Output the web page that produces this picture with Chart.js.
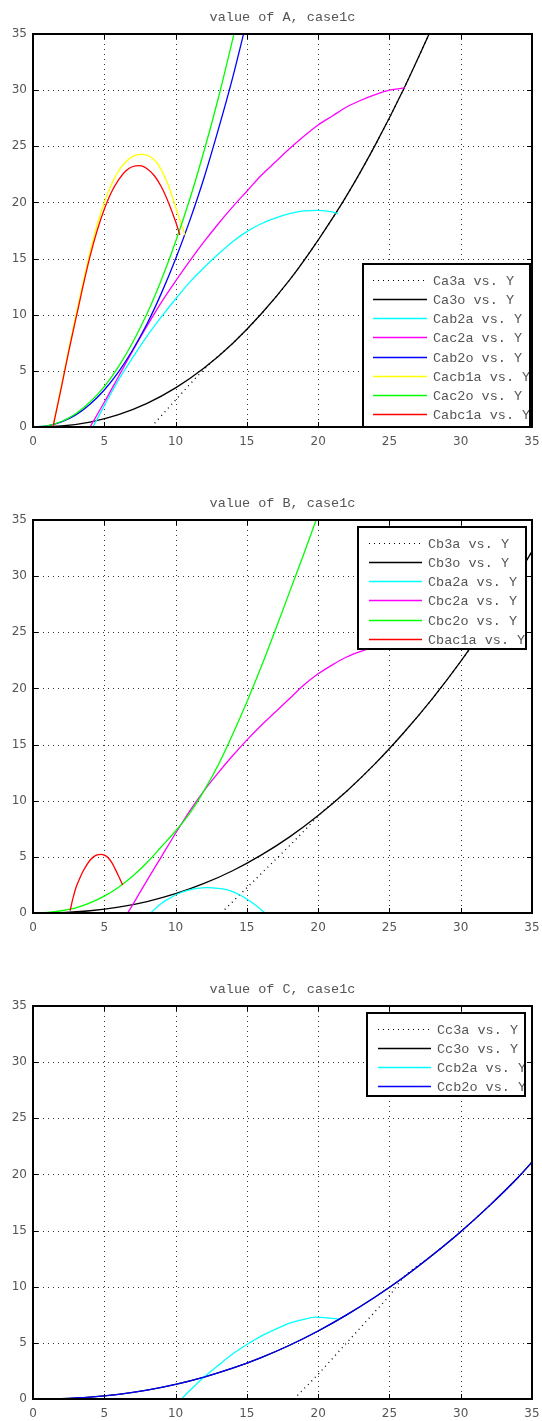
<!DOCTYPE html>
<html>
<head>
<meta charset="utf-8">
<script src="https://cdn.jsdelivr.net/npm/chart.js@4"></script>
<style>
  body { margin: 0; background: #fff; }
  canvas { display: block; }
</style>
</head>
<body>
<canvas id="chartA" width="542" height="486"></canvas>
<canvas id="chartB" width="542" height="486"></canvas>
<canvas id="chartC" width="542" height="449"></canvas>
<script>
// axis ticks shared by all three panels
const tickValues = [0, 5, 10, 15, 20, 25, 30, 35]

// ---- panel A: value of A ----
const Ca3a_x = [8.3, 9, 10, 11, 12, 12.5, 14, 16, 18, 20, 22, 24, 26, 28]
const Ca3a_y = [0, 1.0, 2.4, 3.8, 5.15, 5.76, 7.44, 10.06, 13.1, 16.65, 20.6, 25.1, 30.1, 35.6]
const Ca3o_x = [0, 2, 4, 6, 8, 10, 12, 14, 16, 18, 20, 22, 24, 26, 28]
const Ca3o_y = [0, 0.09, 0.44, 1.1, 2.1, 3.48, 5.25, 7.44, 10.06, 13.1, 16.65, 20.6, 25.1, 30.1, 35.6]
const Cab2a_x = [4.2, 5, 6, 7, 8, 9, 10, 11, 12, 13, 14, 15, 16, 17, 18, 19, 20, 21, 21.4]
const Cab2a_y = [0, 1.9, 4.2, 6.2, 8.1, 9.8, 11.4, 12.9, 14.2, 15.4, 16.5, 17.4, 18.1, 18.6, 19.0, 19.25, 19.3, 19.15, 19.0]
const Cac2a_x = [4, 5, 6, 7, 8, 9, 10, 11, 12, 13, 14, 15, 16, 17, 18, 19, 20, 21, 22, 23, 24, 25, 26.1]
const Cac2a_y = [0, 2.2, 4.5, 6.8, 9.0, 11.1, 13.0, 14.8, 16.5, 18.1, 19.6, 21.0, 22.4, 23.6, 24.8, 25.9, 26.9, 27.7, 28.5, 29.1, 29.6, 30.0, 30.2]
const Cab2o_x = [0, 1, 2, 3, 4, 5, 6, 7, 8, 9, 10, 11, 12, 13, 14, 15]
const Cab2o_y = [0, 0.1, 0.45, 1.08, 2.03, 3.3, 4.91, 6.88, 9.19, 11.9, 14.96, 18.4, 22.2, 26.5, 31.1, 36.2]
const Cacb1a_x = [1.4, 2, 2.5, 3, 3.5, 4, 4.5, 5, 5.5, 6, 6.5, 7, 7.6, 8, 8.5, 9, 9.5, 10, 10.66]
const Cacb1a_y = [0, 3.7, 6.9, 9.9, 12.8, 15.6, 18.0, 20.0, 21.6, 22.8, 23.6, 24.1, 24.28, 24.2, 23.8, 22.9, 21.5, 19.6, 17.1]
const Cac2o_x = [0, 1, 2, 3, 4, 5, 6, 7, 8, 9, 10, 11, 12, 13, 14, 15]
const Cac2o_y = [0, 0.11, 0.49, 1.18, 2.22, 3.6, 5.38, 7.55, 10.1, 13.1, 16.5, 20.3, 24.6, 29.3, 34.5, 40.0]
const Cabc1a_x = [1.4, 2, 2.5, 3, 3.5, 4, 4.5, 5, 5.5, 6, 6.5, 7, 7.5, 8, 8.5, 9, 9.5, 10, 10.3]
const Cabc1a_y = [0, 3.6, 6.7, 9.6, 12.5, 15.2, 17.5, 19.4, 20.9, 22.0, 22.8, 23.2, 23.27, 23.0, 22.4, 21.4, 20.0, 18.3, 17.1]

// ---- panel B: value of B ----
const Cb3a_x = [13.2, 14, 15, 16, 17, 18, 19, 20.2, 22, 24, 26, 28, 30, 32, 34, 35]
const Cb3a_y = [0, 1.0, 2.25, 3.5, 4.75, 6.0, 7.3, 8.89, 10.85, 13.3, 16.05, 19.07, 22.4, 26.1, 30.1, 32.2]
const Cb3o_x = [0, 2, 4, 6, 8, 10, 12, 14, 16, 18, 20, 22, 24, 26, 28, 30, 32, 34, 35]
const Cb3o_y = [0, 0.04, 0.2, 0.52, 1.02, 1.72, 2.63, 3.76, 5.15, 6.78, 8.69, 10.85, 13.3, 16.05, 19.07, 22.4, 26.1, 30.1, 32.2]
const Cba2a_x = [8.25, 8.5, 9, 9.5, 10, 10.5, 11, 11.5, 12.2, 13, 13.5, 14, 14.5, 15, 15.5, 16, 16.27]
const Cba2a_y = [0, 0.3, 0.85, 1.25, 1.6, 1.88, 2.07, 2.2, 2.26, 2.2, 2.1, 1.9, 1.6, 1.25, 0.8, 0.3, 0]
const Cbc2a_x = [6.64, 7, 8, 9, 10, 11, 12, 13, 14, 15, 16, 17, 18, 19, 20, 21, 22, 23, 24, 25, 26]
const Cbc2a_y = [0, 0.75, 2.9, 5.0, 7.1, 9.1, 10.9, 12.5, 14.0, 15.4, 16.7, 17.9, 19.1, 20.3, 21.3, 22.1, 22.8, 23.3, 23.7, 24.0, 24.2]
const Cbc2o_x = [0, 1, 2, 3, 4, 5, 6, 7, 8, 9, 10, 11, 12, 13, 14, 15, 16, 17, 18, 19, 20]
const Cbc2o_y = [0, 0.05, 0.2, 0.45, 0.9, 1.5, 2.3, 3.3, 4.5, 5.9, 7.3, 8.9, 10.9, 13.2, 15.9, 18.8, 21.9, 25.2, 28.6, 32.0, 35.5]
const Cbac1a_x = [2.6, 2.8, 3, 3.25, 3.5, 3.75, 4, 4.25, 4.5, 4.77, 5, 5.25, 5.5, 5.75, 6, 6.29]
const Cbac1a_y = [0.2, 1.3, 2.2, 3.0, 3.7, 4.25, 4.7, 5.0, 5.17, 5.22, 5.15, 4.95, 4.55, 3.95, 3.3, 2.5]

// ---- panel C: value of C ----
const Cc3a_x = [18.3, 19, 20, 21, 22, 23, 24, 25, 26, 28, 30, 32, 34, 35]
const Cc3a_y = [0, 0.9, 2.2, 3.6, 5.0, 6.4, 7.8, 9.2, 10.84, 12.8, 14.9, 17.2, 19.7, 21.1]
const Cc3o_x = [0, 2, 4, 6, 8, 10, 12, 14, 16, 18, 20, 22, 24, 26, 28, 30, 32, 34, 35]
const Cc3o_y = [0, 0.04, 0.17, 0.42, 0.79, 1.3, 1.95, 2.74, 3.69, 4.79, 6.06, 7.49, 9.08, 10.84, 12.8, 14.9, 17.2, 19.7, 21.1]
const Ccb2a_x = [10.4, 11, 12, 13, 14, 15, 16, 17, 18, 19, 19.8, 20.5, 21.5]
const Ccb2a_y = [0, 0.75, 1.95, 3.0, 4.0, 4.85, 5.6, 6.2, 6.75, 7.1, 7.3, 7.25, 7.1]
const Ccb2o_x = [0, 2, 4, 6, 8, 10, 12, 14, 16, 18, 20, 22, 24, 26, 28, 30, 32, 34, 35]
const Ccb2o_y = [0, 0.04, 0.17, 0.42, 0.79, 1.3, 1.95, 2.74, 3.69, 4.79, 6.06, 7.49, 9.08, 10.84, 12.8, 14.9, 17.2, 19.7, 21.1]

const monoFont = '"Liberation Mono", monospace'
const textGrey = '#555'

function series(label, xs, ys, color, dotted) {
    return {
        label: label,
        data: xs.map((v, i) => ({x: v, y: ys[i]})),
        borderColor: color,
        borderWidth: 1.3,
        borderDash: dotted ? [1, 4] : [],
        pointRadius: 0,
        cubicInterpolationMode: 'monotone',
        fill: false
    }
}

function line(ctx, x1, y1, x2, y2) {
    ctx.beginPath()
    ctx.moveTo(x1, y1)
    ctx.lineTo(x2, y2)
    ctx.stroke()
}

// octave/gnuplot look: dotted grid, boxed axes, inward ticks, boxed legend, title
const octaveLook = {
    id: 'octaveLook',
    beforeDatasetsDraw(chart, args, opts) {
        const {ctx, chartArea: a, scales: {x, y}} = chart
        ctx.save()
        ctx.strokeStyle = 'rgba(0,0,0,0.8)'
        ctx.lineWidth = 1
        ctx.setLineDash([1, 4])
        tickValues.slice(1, -1).forEach(v => {
            const px = Math.round(x.getPixelForValue(v)) + 0.5
            line(ctx, px, a.top, px, a.bottom)
            const py = Math.round(y.getPixelForValue(v)) + 0.5
            line(ctx, a.left, py, a.right, py)
        })
        ctx.restore()
    },
    afterDatasetsDraw(chart, args, opts) {
        const {ctx, chartArea: a, scales: {x, y}} = chart
        ctx.save()
        ctx.strokeStyle = '#000'
        ctx.lineWidth = 1
        tickValues.forEach(v => {
            const px = Math.round(x.getPixelForValue(v)) + 0.5
            line(ctx, px, a.bottom, px, a.bottom - 5)
            line(ctx, px, a.top, px, a.top + 5)
            const py = Math.round(y.getPixelForValue(v)) + 0.5
            line(ctx, a.left, py, a.left + 5, py)
            line(ctx, a.right, py, a.right - 5, py)
        })
        ctx.lineWidth = 2
        ctx.strokeRect(a.left, a.top, a.right - a.left, a.bottom - a.top)

        // legend box
        const lg = opts.legend
        ctx.fillStyle = '#fff'
        ctx.fillRect(lg.left, lg.top, lg.width, lg.height)
        ctx.font = '13.5px ' + monoFont
        ctx.textBaseline = 'middle'
        chart.data.datasets.forEach((d, i) => {
            const ry = Math.round(lg.top + 15.7 + i * 19.2) + 0.5
            ctx.strokeStyle = d.borderColor
            ctx.lineWidth = d.borderDash.length ? 1 : 1.6
            ctx.setLineDash(d.borderDash)
            line(ctx, lg.left + lg.lineFrom, ry, lg.left + lg.lineTo, ry)
            ctx.setLineDash([])
            ctx.fillStyle = textGrey
            ctx.fillText(d.label, lg.left + lg.textAt, ry + 1)
        })
        ctx.strokeStyle = '#000'
        ctx.lineWidth = 2
        ctx.strokeRect(lg.left, lg.top, lg.width, lg.height)

        // title
        ctx.font = '13.5px ' + monoFont
        ctx.fillStyle = textGrey
        ctx.textAlign = 'center'
        ctx.fillText(opts.title, (a.left + a.right) / 2, 17)
        ctx.restore()
    }
}

function makeChart(id, title, datasets, legend) {
    datasets.forEach((d, i) => { d.order = datasets.length - i })
    const tickFont = {family: '"DejaVu Sans", sans-serif', size: 12}
    const config = {
        type: 'line',
        data: {datasets: datasets},
        options: {
            responsive: false,
            animation: false,
            layout: {padding: {top: 34, right: 10, left: 0, bottom: 0}},
            scales: {
                x: {
                    type: 'linear',
                    min: 0, max: 35,
                    afterBuildTicks: s => { s.ticks = tickValues.map(v => ({value: v})) },
                    afterFit: s => {
                        s.height = s.chart.height - 427
                        s.paddingLeft = 0
                        s.paddingRight = 0
                    },
                    grid: {display: false, drawTicks: false},
                    border: {display: false},
                    ticks: {font: tickFont, color: textGrey, padding: 8, maxRotation: 0}
                },
                y: {
                    type: 'linear',
                    min: 0, max: 35,
                    afterBuildTicks: s => { s.ticks = tickValues.map(v => ({value: v})) },
                    afterFit: s => { s.width = 33 },
                    grid: {display: false, drawTicks: false},
                    border: {display: false},
                    ticks: {font: tickFont, color: textGrey, padding: 6}
                }
            },
            plugins: {
                legend: {display: false},
                tooltip: {enabled: false},
                octaveLook: {title: title, legend: legend}
            }
        },
        plugins: [octaveLook]
    }
    return new Chart(document.getElementById(id), config)
}

makeChart('chartA', 'value of A, case1c', [
    series('Ca3a vs. Y', Ca3a_x, Ca3a_y, '#000', true),
    series('Ca3o vs. Y', Ca3o_x, Ca3o_y, '#000'),
    series('Cab2a vs. Y', Cab2a_x, Cab2a_y, '#00ffff'),
    series('Cac2a vs. Y', Cac2a_x, Cac2a_y, '#ff00ff'),
    series('Cab2o vs. Y', Cab2o_x, Cab2o_y, '#0000ff'),
    series('Cacb1a vs. Y', Cacb1a_x, Cacb1a_y, '#ffff00'),
    series('Cac2o vs. Y', Cac2o_x, Cac2o_y, '#00ff00'),
    series('Cabc1a vs. Y', Cabc1a_x, Cabc1a_y, '#ff0000')
], {left: 363, top: 264, width: 167, height: 163, lineFrom: 10, lineTo: 64, textAt: 70})

makeChart('chartB', 'value of B, case1c', [
    series('Cb3a vs. Y', Cb3a_x, Cb3a_y, '#000', true),
    series('Cb3o vs. Y', Cb3o_x, Cb3o_y, '#000'),
    series('Cba2a vs. Y', Cba2a_x, Cba2a_y, '#00ffff'),
    series('Cbc2a vs. Y', Cbc2a_x, Cbc2a_y, '#ff00ff'),
    series('Cbc2o vs. Y', Cbc2o_x, Cbc2o_y, '#00ff00'),
    series('Cbac1a vs. Y', Cbac1a_x, Cbac1a_y, '#ff0000')
], {left: 358, top: 41, width: 168, height: 122, lineFrom: 11, lineTo: 64, textAt: 70})

makeChart('chartC', 'value of C, case1c', [
    series('Cc3a vs. Y', Cc3a_x, Cc3a_y, '#000', true),
    series('Cc3o vs. Y', Cc3o_x, Cc3o_y, '#000'),
    series('Ccb2a vs. Y', Ccb2a_x, Ccb2a_y, '#00ffff'),
    series('Ccb2o vs. Y', Ccb2o_x, Ccb2o_y, '#0000ff')
], {left: 367, top: 41, width: 158, height: 83, lineFrom: 11, lineTo: 64, textAt: 70})
</script>
</body>
</html>
